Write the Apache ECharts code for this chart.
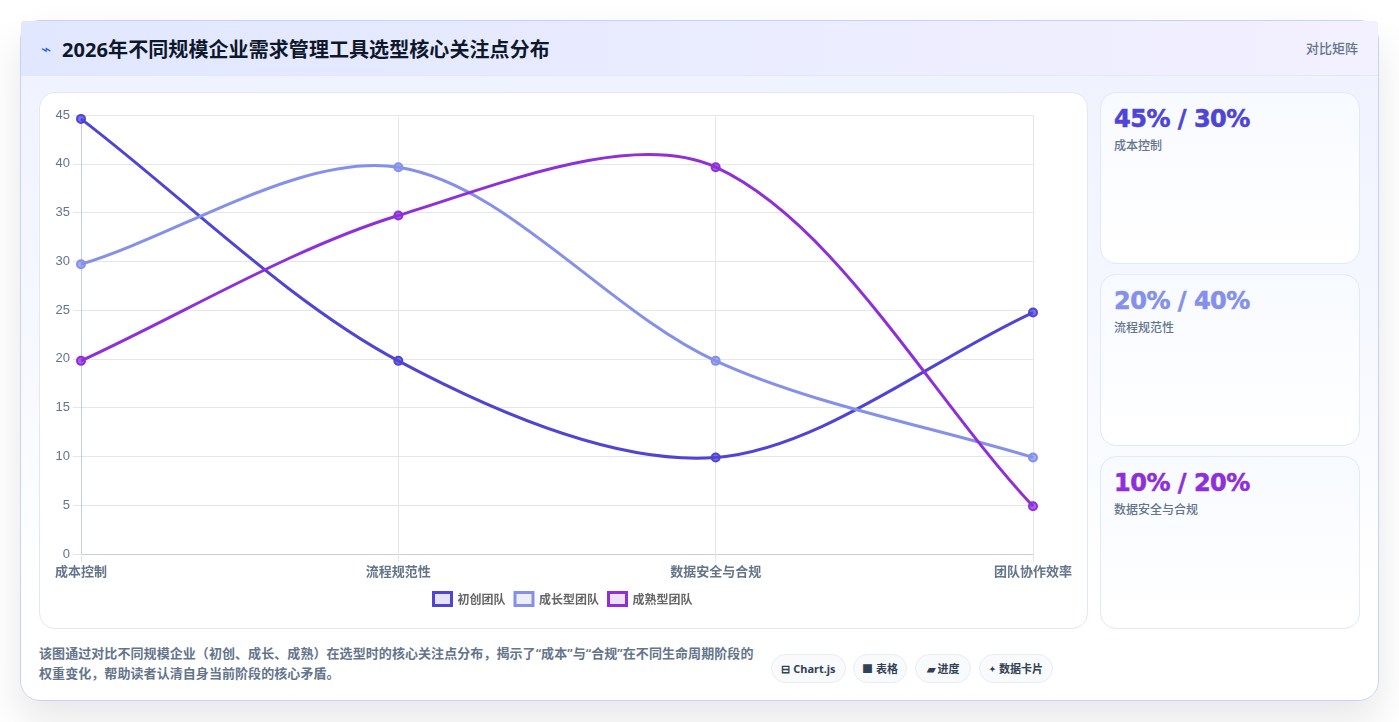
<!DOCTYPE html>
<html lang="zh"><head><meta charset="utf-8">
<script src="https://cdn.jsdelivr.net/npm/echarts@6/dist/echarts.min.js"></script>
<style>
*{box-sizing:border-box}
html,body{margin:0;padding:0;width:1399px;height:722px;overflow:hidden;background:#fff;font-family:"Noto Sans","Noto Sans CJK SC",sans-serif}
.card{position:absolute;left:20px;top:20px;width:1359px;height:681px;border:1px solid #c7d2f5;border-radius:20px;background:linear-gradient(180deg,#eef2ff 0%,#f6f8ff 45%,#ffffff 85%);box-shadow:0 20px 40px rgba(15,23,42,.10)}
.head{position:absolute;left:0;top:0;right:0;height:55px;background:linear-gradient(90deg,#e0e7ff,#f3f0ff);border-bottom:1px solid #e2e8f8;border-radius:3px 3px 0 0}
.icon{position:absolute;left:20px;top:17px;font-size:17px;color:#2563eb;line-height:22px}
.title{position:absolute;left:41px;top:14px;font-size:20px;font-weight:700;color:#0f172a;line-height:29px;white-space:nowrap;letter-spacing:.08px}
.badge{position:absolute;right:20px;top:18px;font-size:13px;font-weight:500;color:#64748b;line-height:19px}
#chart{position:absolute;left:18px;top:71px;width:1049px;height:537px;background:#fff;border:1px solid #e2e8f0;border-radius:16px}
.stat{position:absolute;left:1079px;width:260px;border:1px solid #e2e8f8;border-radius:16px;background:linear-gradient(180deg,#f7faff,#ffffff);padding:0 13px}
.num{font-family:"DejaVu Sans",sans-serif;font-weight:800;font-size:24px;line-height:28px;margin-top:12px;white-space:nowrap;letter-spacing:-.5px;-webkit-text-stroke:.55px currentColor}
.lab{font-size:12px;font-weight:500;color:#64748b;line-height:17px;margin-top:4px}
.note{position:absolute;left:18px;top:622px;width:722px;font-size:13px;font-weight:600;line-height:20px;color:#64748b;margin:0;letter-spacing:.07px}
.chip{position:absolute;top:633px;height:29px;border:1px solid #e8edf5;border-radius:15px;background:#f8fafc;font-size:11px;font-weight:700;color:#334155;line-height:27px;text-align:center;white-space:nowrap}
</style></head><body>
<div class="card">
 <div class="head"><span class="icon">⌁</span><span class="title">2026年不同规模企业需求管理工具选型核心关注点分布</span><span class="badge">对比矩阵</span></div>
 <div id="chart"></div>
 <div class="stat" style="top:71px;height:172px"><div class="num" style="color:#4f44d6">45% / 30%</div><div class="lab">成本控制</div></div>
 <div class="stat" style="top:253px;height:172px"><div class="num" style="color:#8490ea">20% / 40%</div><div class="lab">流程规范性</div></div>
 <div class="stat" style="top:435px;height:173px"><div class="num" style="color:#8e2fd9">10% / 20%</div><div class="lab">数据安全与合规</div></div>
 <p class="note">该图通过对比不同规模企业（初创、成长、成熟）在选型时的核心关注点分布，揭示了“成本”与“合规”在不同生命周期阶段的权重变化，帮助读者认清自身当前阶段的核心矛盾。</p>
 <div class="chip" style="left:750px;width:75px">⊟ Chart.js</div>
 <div class="chip" style="left:832px;width:54px">■ 表格</div>
 <div class="chip" style="left:894px;width:56px">▰ 进度</div>
 <div class="chip" style="left:958px;width:74px"><span style="font-size:8px;vertical-align:1px">✦</span> 数据卡片</div>
</div>
<script>
const categories=["成本控制","流程规范性","数据安全与合规","团队协作效率"];
const startupValues=[44.6,19.8,9.9,24.75];
const growthValues=[29.7,39.65,19.8,9.9];
const matureValues=[19.8,34.7,39.65,4.9];
const seriesNames=["初创团队","成长型团队","成熟型团队"];
const colors=["#4f44d6","#8490ea","#8e2fd9"];
const fills=["rgba(79,68,214,.15)","rgba(132,144,234,.15)","rgba(142,47,217,.15)"];
const tension=0.32;
const chart=echarts.init(document.getElementById('chart'));
// The reference's curve overshoots at its points, so each segment is drawn as a bezier from scale-mapped coordinates.
const curve=(values,i)=>({type:'custom',name:seriesNames[i]+' curve',data:values.map((v,k)=>[k,v]),encode:{x:0,y:1},silent:true,z:2+i,
 tooltip:{show:false},
 renderItem:(params,api)=>{
  const k=params.dataIndex;
  if(k>=values.length-1) return null;
  const pt=j=>api.coord([Math.max(0,Math.min(values.length-1,j)),values[Math.max(0,Math.min(values.length-1,j))]]);
  const r=params.coordSys;
  const cap=(x,y)=>[Math.max(r.x,Math.min(r.x+r.width,x)),Math.max(r.y,Math.min(r.y+r.height,y))];
  const ctrl=(p0,p1,p2)=>{
   const d01=Math.hypot(p1[0]-p0[0],p1[1]-p0[1]),d12=Math.hypot(p2[0]-p1[0],p2[1]-p1[1]);
   const s=d01+d12||1,fa=tension*d01/s,fb=tension*d12/s;
   return {prev:cap(p1[0]-fa*(p2[0]-p0[0]),p1[1]-fa*(p2[1]-p0[1])),next:cap(p1[0]+fb*(p2[0]-p0[0]),p1[1]+fb*(p2[1]-p0[1]))};
  };
  const a=pt(k),b=pt(k+1);
  const ca=ctrl(pt(k-1),a,b),cb=ctrl(a,b,pt(k+2));
  return {type:'bezierCurve',shape:{x1:a[0],y1:a[1],x2:b[0],y2:b[1],cpx1:ca.next[0],cpy1:ca.next[1],cpx2:cb.prev[0],cpy2:cb.prev[1]},
   style:{stroke:colors[i],lineWidth:3,fill:null}};
 }});
const mk=(n,d,i)=>({name:n,type:'line',data:d,smooth:false,symbol:'circle',symbolSize:8,showSymbol:true,
 lineStyle:{opacity:0,width:0},itemStyle:{color:fills[i].replace('.15','.75'),borderColor:colors[i],borderWidth:2},z:6+i});
const gridColor='#e3e7ec',axisColor='#c9ced6';
chart.setOption({animation:false,
 textStyle:{fontFamily:'"Liberation Sans",Arial,sans-serif'},
 grid:{left:41,right:54,top:22,bottom:74,containLabel:false},
 legend:{bottom:16,left:387,itemWidth:18,itemHeight:13,itemGap:8,icon:'rect',
  textStyle:{color:'#666',fontSize:12,fontFamily:'"Noto Sans CJK SC"',fontWeight:600,padding:[0,0,0,1]},
  data:seriesNames.map((n,i)=>({name:n,itemStyle:{color:fills[i],borderColor:colors[i],borderWidth:3}}))},
 xAxis:{type:'category',boundaryGap:false,data:categories,
  axisLine:{lineStyle:{color:axisColor,width:1}},axisTick:{show:true,length:8,alignWithLabel:true,lineStyle:{color:gridColor}},
  axisLabel:{color:'#64748b',fontSize:13,fontWeight:600,fontFamily:'"Noto Sans CJK SC"',margin:11,interval:0},
  splitLine:{show:true,lineStyle:{color:gridColor,width:1}}},
 yAxis:{type:'value',min:0,max:45,interval:5,
  axisLine:{show:true,lineStyle:{color:axisColor}},axisTick:{show:true,length:8,lineStyle:{color:gridColor}},
  axisLabel:{color:'#64748b',fontSize:13,margin:11},
  splitLine:{show:true,lineStyle:{color:gridColor,width:1}}},
 series:[curve(startupValues,0),curve(growthValues,1),curve(matureValues,2),
  mk(seriesNames[0],startupValues,0),mk(seriesNames[1],growthValues,1),mk(seriesNames[2],matureValues,2)]
});
</script>
</body></html>
